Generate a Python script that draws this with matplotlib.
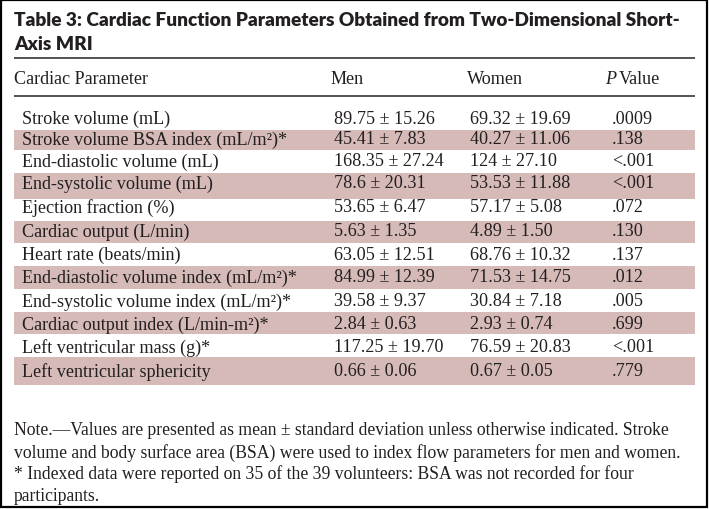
import matplotlib
matplotlib.use("Agg")
import matplotlib.pyplot as plt
from matplotlib.patches import Rectangle

# table content
title_lines = ["Table 3: Cardiac Function Parameters Obtained from Two-Dimensional Short-",
               "Axis MRI"]
header = ["Cardiac Parameter", "Men", "Women", "Value"]
parameters = [
    "Stroke volume (mL)",
    "Stroke volume BSA index (mL/m\u00b2)*",
    "End-diastolic volume (mL)",
    "End-systolic volume (mL)",
    "Ejection fraction (%)",
    "Cardiac output (L/min)",
    "Heart rate (beats/min)",
    "End-diastolic volume index (mL/m\u00b2)*",
    "End-systolic volume index (mL/m\u00b2)*",
    "Cardiac output index (L/min-m\u00b2)*",
    "Left ventricular mass (g)*",
    "Left ventricular sphericity",
]
men = ["89.75 \u00b1 15.26", "45.41 \u00b1 7.83", "168.35 \u00b1 27.24", "78.6 \u00b1 20.31",
       "53.65 \u00b1 6.47", "5.63 \u00b1 1.35", "63.05 \u00b1 12.51", "84.99 \u00b1 12.39",
       "39.58 \u00b1 9.37", "2.84 \u00b1 0.63", "117.25 \u00b1 19.70", "0.66 \u00b1 0.06"]
women = ["69.32 \u00b1 19.69", "40.27 \u00b1 11.06", "124 \u00b1 27.10", "53.53 \u00b1 11.88",
         "57.17 \u00b1 5.08", "4.89 \u00b1 1.50", "68.76 \u00b1 10.32", "71.53 \u00b1 14.75",
         "30.84 \u00b1 7.18", "2.93 \u00b1 0.74", "76.59 \u00b1 20.83", "0.67 \u00b1 0.05"]
p_values = [".0009", ".138", "<.001", "<.001", ".072", ".130", ".137",
            ".012", ".005", ".699", "<.001", ".779"]
note_lines = [
    "Note.\u2014Values are presented as mean \u00b1 standard deviation unless otherwise indicated. Stroke",
    "volume and body surface area (BSA) were used to index flow parameters for men and women.",
    "* Indexed data were reported on 35 of the 39 volunteers: BSA was not recorded for four",
    "participants.",
]

W, H = 709, 510
ink = "#231f20"
shade = "#d5bab8"
serif = "Liberation Serif"
fs = 13.1

fig = plt.figure(figsize=(W / 100, H / 100), dpi=100)
ax = fig.add_axes([0, 0, 1, 1])
ax.set_xlim(0, W)
ax.set_ylim(H, 0)
ax.axis("off")

# outer frame
ax.add_patch(Rectangle((0.8, 0.8), W - 2.6, H - 2.6, fill=False, lw=1.6, ec="black"))

# title
for i, line in enumerate(title_lines):
    ax.text(14, 21 + 24 * i, line, fontsize=13.7, fontweight="heavy", family="Lato",
            color=ink, va="center", ha="left")

# rules
for y in (59, 97):
    ax.plot([14, 695], [y, y], color="#444444", lw=1.3, solid_capstyle="butt")

# header
col_x = [14, 331, 467, 605]
for x, h in zip(col_x[:3], header[:3]):
    ax.text(x, 80, h, fontsize=fs, family=serif, color=ink, va="center", ha="left")
ax.text(col_x[3], 80, "P", fontsize=fs, family=serif, style="italic", color=ink,
        va="center", ha="left")
ax.text(col_x[3] + 14, 80, header[3], fontsize=fs, family=serif, color=ink,
        va="center", ha="left")

# rows
row_y = [119, 140, 162, 184, 208, 232, 255, 278, 302, 325, 348, 372]
band = {1: (131, 151), 3: (174, 200), 5: (222, 244), 7: (267, 290), 9: (313, 335),
        11: (358, 386)}
for i, (name, m, w, p) in enumerate(zip(parameters, men, women, p_values)):
    if i in band:
        y0, y1 = band[i]
        ax.add_patch(Rectangle((14, y0), 681, y1 - y0, color=shade, lw=0))
    y = row_y[i]
    ax.text(22, y, name, fontsize=fs, family=serif, color=ink, va="center", ha="left")
    ax.text(334, y, m, fontsize=fs, family=serif, color=ink, va="center", ha="left")
    ax.text(470, y, w, fontsize=fs, family=serif, color=ink, va="center", ha="left")
    ax.text(612, y, p, fontsize=fs, family=serif, color=ink, va="center", ha="left")

# footnote
for i, line in enumerate(note_lines):
    ax.text(14, 431 + 21.7 * i, line, fontsize=12.7, family=serif, color=ink,
            va="center", ha="left")

fig.savefig("out.png", dpi=100)
